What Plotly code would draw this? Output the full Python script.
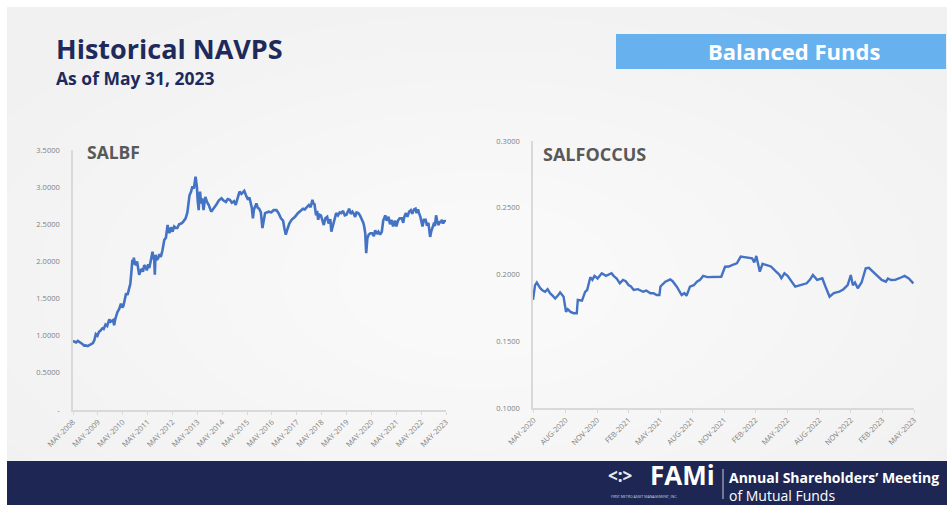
import plotly.graph_objects as go

# ---------------- data ----------------
salbf_dates = [
    "2008-05-30", "2008-06-20", "2008-07-15", "2008-08-10", "2008-09-01", "2008-09-25",
    "2008-10-15", "2008-11-10", "2008-12-05", "2009-01-01", "2009-01-25", "2009-02-15",
    "2009-03-20", "2009-04-10", "2009-05-01", "2009-05-25", "2009-06-15", "2009-07-10",
    "2009-08-05", "2009-08-25", "2009-09-20", "2009-10-15", "2009-11-15", "2009-12-05",
    "2009-12-20", "2010-01-10", "2010-01-25", "2010-02-10", "2010-03-15", "2010-04-10",
    "2010-05-05", "2010-05-25", "2010-06-10", "2010-07-01", "2010-07-20", "2010-08-10",
    "2010-09-05", "2010-09-20", "2010-10-05", "2010-10-20", "2010-11-01", "2010-11-10",
    "2010-11-25", "2010-12-10", "2010-12-28", "2011-01-15", "2011-01-28", "2011-02-20",
    "2011-03-10", "2011-03-25", "2011-04-12", "2011-05-01", "2011-05-20", "2011-06-10",
    "2011-06-25", "2011-07-15", "2011-08-01", "2011-08-12", "2011-08-25", "2011-09-05",
    "2011-09-15", "2011-09-25", "2011-10-10", "2011-11-01", "2011-11-20", "2011-12-12",
    "2012-01-05", "2012-02-01", "2012-02-25", "2012-03-20", "2012-04-01", "2012-04-15",
    "2012-05-10", "2012-06-01", "2012-06-25", "2012-07-20", "2012-08-10", "2012-09-05",
    "2012-10-05", "2012-11-01", "2012-12-10", "2013-01-05", "2013-02-05", "2013-03-01",
    "2013-03-20", "2013-04-10", "2013-05-05", "2013-05-18", "2013-05-25", "2013-06-05",
    "2013-06-20", "2013-06-28", "2013-07-10", "2013-07-25", "2013-08-10", "2013-08-30",
    "2013-09-10", "2013-09-25", "2013-10-20", "2013-11-15", "2013-12-20", "2014-01-15",
    "2014-02-10", "2014-03-10", "2014-04-10", "2014-05-20", "2014-06-20", "2014-07-25",
    "2014-08-20", "2014-09-20", "2014-10-20", "2014-11-20", "2014-12-15", "2015-01-10",
    "2015-02-10", "2015-03-10", "2015-04-20", "2015-05-15", "2015-06-15", "2015-07-05",
    "2015-07-20", "2015-08-10", "2015-08-25", "2015-09-10", "2015-10-15", "2015-11-05",
    "2015-11-25", "2015-12-20", "2016-01-12", "2016-01-28", "2016-02-20", "2016-03-15",
    "2016-04-15", "2016-05-20", "2016-06-25", "2016-08-05", "2016-09-05", "2016-10-10",
    "2016-11-10", "2016-12-01", "2016-12-20", "2017-01-15", "2017-02-10", "2017-03-15",
    "2017-05-05", "2017-06-15", "2017-07-20", "2017-08-30", "2017-09-25", "2017-10-30",
    "2017-11-25", "2017-12-20", "2018-01-15", "2018-01-30", "2018-02-15", "2018-03-10",
    "2018-03-25", "2018-04-10", "2018-04-25", "2018-05-20", "2018-06-10", "2018-07-01",
    "2018-07-25", "2018-08-20", "2018-09-10", "2018-10-05", "2018-10-20", "2018-11-10",
    "2018-12-05", "2018-12-30", "2019-01-25", "2019-02-20", "2019-03-15", "2019-04-10",
    "2019-05-05", "2019-05-30", "2019-06-20", "2019-07-08", "2019-08-01", "2019-08-25",
    "2019-09-10", "2019-10-05", "2019-10-25", "2019-11-20", "2019-12-15", "2020-01-15",
    "2020-02-01", "2020-02-15", "2020-03-01", "2020-03-15", "2020-03-22", "2020-04-01",
    "2020-04-20", "2020-05-15", "2020-06-10", "2020-07-05", "2020-07-25", "2020-08-20",
    "2020-09-10", "2020-10-05", "2020-10-30", "2020-11-20", "2020-12-20", "2021-01-10",
    "2021-02-05", "2021-02-28", "2021-03-20", "2021-04-15", "2021-05-10", "2021-06-01",
    "2021-06-25", "2021-07-20", "2021-08-20", "2021-09-10", "2021-09-25", "2021-10-20",
    "2021-11-10", "2021-12-05", "2021-12-30", "2022-01-20", "2022-02-15", "2022-03-10",
    "2022-03-25", "2022-04-15", "2022-04-30", "2022-05-20", "2022-06-20", "2022-07-10",
    "2022-08-05", "2022-08-25", "2022-09-15", "2022-10-10", "2022-10-25", "2022-11-10",
    "2022-11-30", "2022-12-20", "2023-01-05", "2023-01-20", "2023-02-10", "2023-02-28",
    "2023-03-15", "2023-04-01", "2023-04-20", "2023-05-10", "2023-05-25",
]
salbf_navps = [
    0.93, 0.92, 0.91, 0.93, 0.92, 0.90,
    0.89, 0.866, 0.87, 0.86, 0.87, 0.884,
    0.90, 0.94, 1.02, 1.00, 1.05, 1.07,
    1.10, 1.09, 1.15, 1.13, 1.22, 1.19,
    1.20, 1.21, 1.14, 1.22, 1.32, 1.36,
    1.43, 1.38, 1.40, 1.47, 1.57, 1.55,
    1.66, 1.70, 1.85, 2.02, 1.96, 2.05,
    1.98, 1.95, 2.00, 1.86, 1.82, 1.88,
    1.90, 1.86, 1.95, 1.93, 1.88, 1.96,
    1.91, 2.00, 2.08, 2.13, 2.03, 2.05,
    1.82, 2.09, 2.02, 2.04, 2.10, 2.06,
    2.15, 2.29, 2.32, 2.49, 2.42, 2.38,
    2.46, 2.40, 2.47, 2.45, 2.45, 2.50,
    2.51, 2.53, 2.58, 2.66, 2.89, 2.94,
    3.01, 2.98, 3.14, 3.05, 3.00, 2.82,
    2.69, 2.86, 2.94, 2.78, 2.85, 2.69,
    2.75, 2.87, 2.80, 2.76, 2.67, 2.70,
    2.74, 2.77, 2.82, 2.85, 2.82, 2.80,
    2.84, 2.83, 2.79, 2.81, 2.76, 2.84,
    2.94, 2.91, 2.95, 2.89, 2.83, 2.86,
    2.80, 2.72, 2.58, 2.70, 2.78, 2.72,
    2.71, 2.66, 2.45, 2.56, 2.65, 2.66,
    2.67, 2.66, 2.69, 2.69, 2.65, 2.58,
    2.55, 2.44, 2.36, 2.44, 2.51, 2.56,
    2.60, 2.65, 2.68, 2.71, 2.70, 2.74,
    2.76, 2.73, 2.83, 2.78, 2.77, 2.62,
    2.68, 2.56, 2.63, 2.62, 2.55, 2.49,
    2.58, 2.60, 2.51, 2.57, 2.40, 2.48,
    2.58, 2.65, 2.62, 2.66, 2.65, 2.68,
    2.62, 2.63, 2.67, 2.71, 2.64, 2.67,
    2.65, 2.60, 2.66, 2.65, 2.62, 2.56,
    2.52, 2.47, 2.38, 2.11, 2.28, 2.31,
    2.36, 2.38, 2.38, 2.34, 2.42, 2.37,
    2.40, 2.36, 2.40, 2.55, 2.62, 2.55,
    2.60, 2.50, 2.56, 2.47, 2.55, 2.47,
    2.55, 2.58, 2.58, 2.52, 2.60, 2.65,
    2.60, 2.67, 2.69, 2.64, 2.70, 2.71,
    2.65, 2.70, 2.65, 2.60, 2.47, 2.56,
    2.56, 2.48, 2.52, 2.33, 2.40, 2.45,
    2.50, 2.48, 2.62, 2.55, 2.49, 2.54,
    2.52, 2.56, 2.51, 2.55, 2.53,
]

salfoccus_dates = [
    "2020-05-29", "2020-06-04", "2020-06-09", "2020-06-15", "2020-06-19", "2020-06-26",
    "2020-07-03", "2020-07-10", "2020-07-17", "2020-07-25", "2020-08-01", "2020-08-08",
    "2020-08-15", "2020-08-20", "2020-08-25", "2020-08-29", "2020-09-01", "2020-09-06",
    "2020-09-14", "2020-09-23", "2020-10-02", "2020-10-05", "2020-10-17", "2020-10-22",
    "2020-10-26", "2020-11-01", "2020-11-10", "2020-11-16", "2020-11-22", "2020-12-01",
    "2020-12-13", "2020-12-25", "2021-01-04", "2021-01-10", "2021-01-16", "2021-01-25",
    "2021-02-03", "2021-02-12", "2021-02-20", "2021-02-28", "2021-03-07", "2021-03-15",
    "2021-03-27", "2021-04-02", "2021-04-11", "2021-04-20", "2021-05-02", "2021-05-11",
    "2021-05-20", "2021-05-28", "2021-05-31", "2021-06-14", "2021-06-28", "2021-07-05",
    "2021-07-17", "2021-07-31", "2021-08-08", "2021-08-14", "2021-08-24", "2021-09-04",
    "2021-09-13", "2021-09-22", "2021-10-01", "2021-10-13", "2021-10-29", "2021-11-10",
    "2021-11-22", "2021-12-03", "2021-12-14", "2021-12-23", "2022-01-06", "2022-01-17",
    "2022-02-01", "2022-02-19", "2022-02-25", "2022-03-03", "2022-03-13", "2022-03-21",
    "2022-04-02", "2022-04-14", "2022-04-29", "2022-05-08", "2022-05-14", "2022-05-23",
    "2022-06-01", "2022-06-12", "2022-06-23", "2022-07-08", "2022-07-26", "2022-08-04",
    "2022-08-13", "2022-08-25", "2022-09-09", "2022-09-18", "2022-09-30", "2022-10-12",
    "2022-10-28", "2022-11-09", "2022-11-21", "2022-11-30", "2022-12-06", "2022-12-12",
    "2022-12-20", "2022-12-31", "2023-01-12", "2023-01-21", "2023-02-02", "2023-02-14",
    "2023-02-27", "2023-03-11", "2023-03-17", "2023-03-26", "2023-04-07", "2023-04-19",
    "2023-05-04", "2023-05-16", "2023-05-29",
]
salfoccus_navps = [
    0.181, 0.192, 0.194, 0.191, 0.1897, 0.188,
    0.187, 0.189, 0.186, 0.184, 0.182, 0.184,
    0.1865, 0.185, 0.1834, 0.177, 0.172, 0.174,
    0.172, 0.171, 0.171, 0.181, 0.1804, 0.184,
    0.187, 0.1884, 0.198, 0.196, 0.199, 0.197,
    0.2009, 0.199, 0.200, 0.201, 0.199, 0.197,
    0.1934, 0.1959, 0.195, 0.1921, 0.191, 0.1884,
    0.189, 0.188, 0.1871, 0.188, 0.1859, 0.186,
    0.1846, 0.1846, 0.191, 0.1946, 0.1964, 0.195,
    0.1909, 0.1846, 0.186, 0.184, 0.1909, 0.192,
    0.1946, 0.196, 0.1989, 0.198, 0.1983, 0.1983,
    0.1983, 0.2058, 0.206, 0.207, 0.2084, 0.2134,
    0.213, 0.2121, 0.209, 0.2139, 0.2021, 0.208,
    0.2071, 0.206, 0.2021, 0.200, 0.1972, 0.2009,
    0.199, 0.1946, 0.1909, 0.192, 0.1934, 0.196,
    0.1996, 0.196, 0.1972, 0.191, 0.1834, 0.186,
    0.1871, 0.189, 0.1921, 0.1996, 0.192, 0.194,
    0.1897, 0.194, 0.2046, 0.205, 0.2021, 0.199,
    0.1959, 0.1946, 0.197, 0.1959, 0.196, 0.1972,
    0.1989, 0.197, 0.1934,
]

left_xtick_vals = [f"{y}-05-31" for y in range(2008, 2024)]
left_xtick_text = [f"MAY-{y}" for y in range(2008, 2024)]
left_ytick_vals = [0, 0.5, 1.0, 1.5, 2.0, 2.5, 3.0, 3.5]
left_ytick_text = ["-", "0.5000", "1.0000", "1.5000", "2.0000", "2.5000", "3.0000", "3.5000"]

right_xtick_vals = ["2020-05-31", "2020-08-31", "2020-11-30", "2021-02-28", "2021-05-31",
                    "2021-08-31", "2021-11-30", "2022-02-28", "2022-05-31", "2022-08-31",
                    "2022-11-30", "2023-02-28", "2023-05-31"]
right_xtick_text = ["MAY-2020", "AUG-2020", "NOV-2020", "FEB-2021", "MAY-2021", "AUG-2021",
                    "NOV-2021", "FEB-2022", "MAY-2022", "AUG-2022", "NOV-2022", "FEB-2023",
                    "MAY-2023"]
right_ytick_vals = [0.10, 0.15, 0.20, 0.25, 0.30]
right_ytick_text = ["0.1000", "0.1500", "0.2000", "0.2500", "0.3000"]

# ---------------- figure ----------------
W, H = 947, 505
LINE = "#4472c4"
AX = "#d9d9d9"
TICKF = dict(family="Open Sans, sans-serif", size=7.5, color="#7f7f7f")


def px_x(p):
    return p / W


def px_y(p):
    return 1 - p / H


fig = go.Figure()
fig.add_trace(go.Scatter(x=salbf_dates, y=salbf_navps, mode="lines",
                         line=dict(color=LINE, width=2.6), xaxis="x", yaxis="y",
                         showlegend=False, hoverinfo="x+y"))
fig.add_trace(go.Scatter(x=salfoccus_dates, y=salfoccus_navps, mode="lines",
                         line=dict(color=LINE, width=2.4), xaxis="x2", yaxis="y2",
                         showlegend=False, hoverinfo="x+y"))

common_x = dict(type="date", showgrid=False, zeroline=False, showline=True, linecolor=AX,
                linewidth=1.5, ticks="outside", ticklen=3, tickcolor=AX, tickangle=-45,
                tickfont=TICKF, tickmode="array", automargin=False)
common_y = dict(showgrid=False, zeroline=False, showline=True, linecolor=AX, linewidth=1.5,
                ticks="", tickfont=TICKF, tickmode="array", automargin=False)

fig.update_layout(
    width=W, height=H, autosize=False,
    margin=dict(l=0, r=0, t=0, b=0, pad=0),
    paper_bgcolor="white", plot_bgcolor="rgba(0,0,0,0)",
    xaxis=dict(common_x, domain=[px_x(73), px_x(446)],
               range=["2008-05-31", "2023-05-31"],
               tickvals=left_xtick_vals, ticktext=left_xtick_text, anchor="y"),
    yaxis=dict(common_y, domain=[px_y(410), px_y(150)], range=[0, 3.5],
               tickvals=left_ytick_vals, ticktext=left_ytick_text, anchor="x", ticklabelstandoff=10),
    xaxis2=dict(common_x, domain=[px_x(533), px_x(914)],
                range=["2020-05-29", "2023-05-31"],
                tickvals=right_xtick_vals, ticktext=right_xtick_text, anchor="y2"),
    yaxis2=dict(common_y, domain=[px_y(408), px_y(141)], range=[0.1, 0.3],
                tickvals=right_ytick_vals, ticktext=right_ytick_text, anchor="x2", ticklabelstandoff=10),
)

shapes = []
# slide background
shapes.append(dict(type="rect", xref="paper", yref="paper", x0=px_x(7), x1=1, y0=0, y1=px_y(7),
                   fillcolor="#f1f1f1", line=dict(width=0), layer="below"))
# soft radial highlight
cx, cy = 480, 280
for rx, ry in [(560, 300), (500, 265), (440, 230), (380, 200), (320, 170), (260, 140), (200, 110), (140, 80)]:
    shapes.append(dict(type="circle", xref="paper", yref="paper",
                       x0=px_x(cx - rx), x1=px_x(cx + rx), y0=px_y(cy + ry), y1=px_y(cy - ry),
                       fillcolor="white", opacity=0.13, line=dict(width=0), layer="below"))
# banner
shapes.append(dict(type="rect", xref="paper", yref="paper", x0=px_x(616), x1=px_x(946),
                   y0=px_y(69), y1=px_y(34), fillcolor="#68b1ef", line=dict(width=0), layer="below"))
# footer
shapes.append(dict(type="rect", xref="paper", yref="paper", x0=px_x(7), x1=1, y0=0, y1=px_y(461),
                   fillcolor="#1e2754", line=dict(width=0), layer="below"))
# footer separator
shapes.append(dict(type="line", xref="paper", yref="paper", x0=px_x(723), x1=px_x(723),
                   y0=px_y(499), y1=px_y(469), line=dict(color="#c8cbd8", width=1)))
fig.update_layout(shapes=shapes)

FONT = "Open Sans, Noto Sans, sans-serif"
ann = []


def text(x, y, s, size, color, bold=False, xanchor="left"):
    ann.append(dict(x=px_x(x), y=px_y(y), xref="paper", yref="paper", showarrow=False,
                    text=f"<b>{s}</b>" if bold else s, xanchor=xanchor, yanchor="middle",
                    align="left", font=dict(family=FONT, size=size, color=color)))


text(54, 49, "Historical NAVPS", 27, "#1f2a5c", bold=True)
text(54, 77.5, "As of May 31, 2023", 17.5, "#1f2a5c", bold=True)
text(794, 51, "Balanced Funds", 22, "white", bold=True, xanchor="center")
text(85, 152, "SALBF", 17.5, "#595959", bold=True)
text(541, 154, "SALFOCCUS", 18, "#595959", bold=True)
text(606, 475, "&lt;:&gt;", 17, "#e8eaf2", bold=True)
text(648, 475, "FAMi", 26, "white", bold=True)
text(609, 496.5, "FIRST METRO ASSET MANAGEMENT, INC.", 3.5, "#d0d3e0")
text(727, 486, "<b>Annual Shareholders’ Meeting</b><br>of Mutual Funds", 14, "white")
fig.update_layout(annotations=ann)

fig.write_html("out.html", config={"displayModeBar": False},
               post_script="document.body.style.margin='0px';document.body.style.padding='0px';"
                           "document.body.style.overflow='hidden';")
